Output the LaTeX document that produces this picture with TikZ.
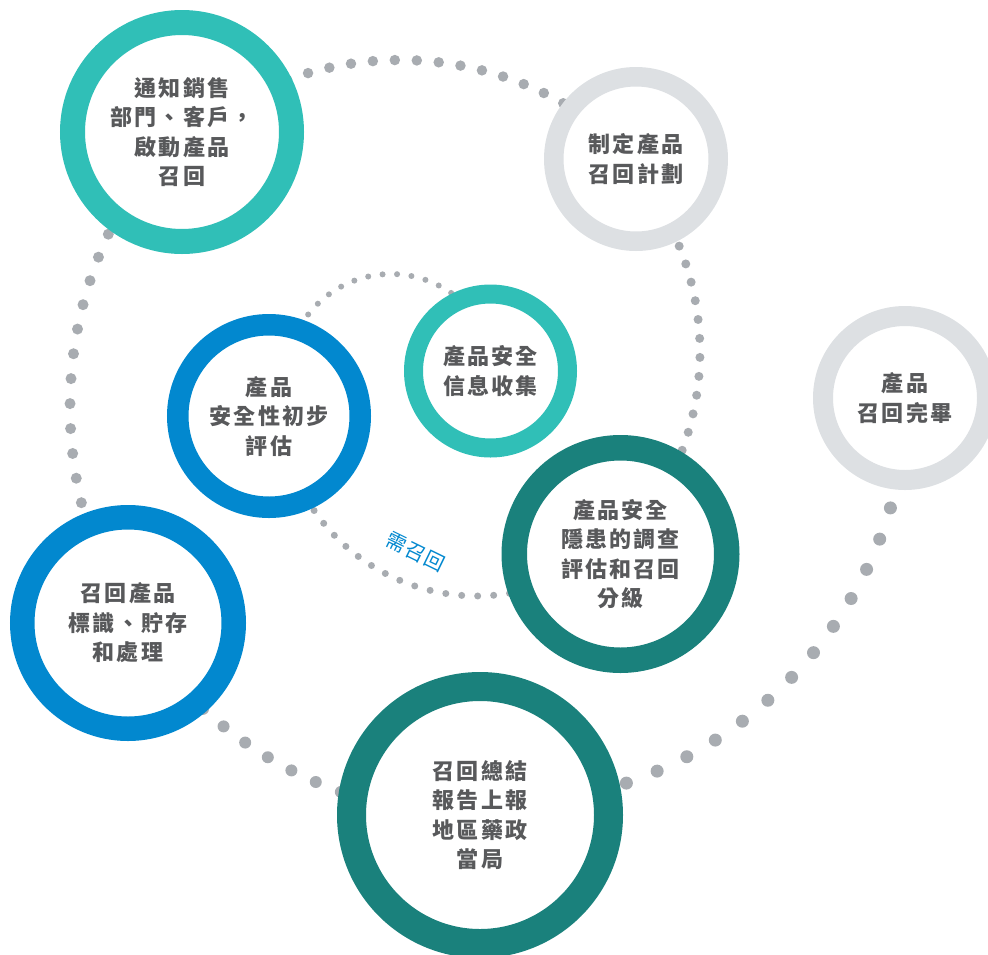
\documentclass[tikz,border=0pt]{standalone}
\usepackage{fontspec}
\newfontfamily\cjk[LetterSpace=10]{Noto Sans CJK TC}
\newfontfamily\cjklbl[LetterSpace=6]{Noto Sans CJK TC}
\definecolor{tealA}{HTML}{30BFB7}
\definecolor{tealB}{HTML}{1A817C}
\definecolor{blueA}{HTML}{0288CF}
\definecolor{ringgray}{HTML}{DDE0E3}
\definecolor{dotgray}{HTML}{A8ACB1}
\definecolor{textgray}{HTML}{58595B}
\tikzset{
  ring/.style n args={3}{circle, draw=#1, fill=white, line width=#2, minimum size=#3, inner sep=0pt,
    align=center, text=textgray, font=\cjk\bfseries\fontsize{22}{29.5}\selectfont},
  dotline/.style 2 args={draw=dotgray, line width=#1, line cap=round, dash pattern=on 0pt off #2},
  lbl/.style={text=blueA, font=\cjklbl\fontsize{20}{22}\selectfont, inner sep=0pt}
}
\begin{document}
\begin{tikzpicture}[x=1pt,y=-1pt]
\useasboundingbox (0,0) rectangle (988,954);
\clip (0,0) rectangle (988,954);
% dotted connectors (drawn first, covered by rings)
\draw[dotline={10.5pt}{22pt}] plot[domain=-110:-55, samples=80, smooth, variable=\t] ({400+330*cos(\t)}, {390+330*sin(\t)});
\draw[dotline={9pt}{19pt}] plot[domain=-30:28, samples=80, smooth, variable=\t] ({420+280*cos(\t)}, {352+280*sin(\t)});
\draw[dotline={11pt}{25pt}] plot[domain=212:160, samples=80, smooth, variable=\t] ({479+409*cos(\t)}, {407+409*sin(\t)});
\draw[dotline={12pt}{27pt}] plot[domain=140:105, samples=80, smooth, variable=\t] ({479+409*cos(\t)}, {407+409*sin(\t)});
\draw[dotline={13pt}{33pt}] plot[domain=80:8, samples=100, smooth, variable=\t] ({490+418*cos(\t)}, {388+418*sin(\t)});
\draw[dotline={6pt}{14.5pt}] plot[domain=-150:-50, samples=80, smooth, variable=\t] ({391+105*cos(\t)}, {379+105*sin(\t)});
\draw[dotline={7pt}{16pt}] plot[domain=150:75, samples=80, smooth, variable=\t] ({477+198*cos(\t)}, {398+198*sin(\t)});
% rings
\node[ring={tealA}{25pt}{219pt}] (c1) at (182,132) {通知銷售\\部門、客戶，\\啟動產品\\召回};
\node[ring={ringgray}{19.5pt}{164.5pt}] (c2) at (636,159) {制定產品\\召回計劃};
\node[ring={ringgray}{20pt}{164pt}] (c3) at (905,398) {產品\\召回完畢};
\node[ring={blueA}{21.5pt}{182.5pt}] (c4) at (269,416) {產品\\安全性初步\\評估};
\node[ring={tealA}{19pt}{154pt}] (c5) at (490.5,371) {產品安全\\信息收集};
\node[ring={tealB}{25.5pt}{212.5pt}] (c6) at (620.5,554) {產品安全\\隱患的調查\\評估和召回\\分級};
\node[ring={blueA}{24.5pt}{211.5pt}] (c7) at (128,623) {召回產品\\標識、貯存\\和處理};
\node[ring={tealB}{29pt}{257pt}] (c8) at (480,815) {召回總結\\報告上報\\地區藥政\\當局};
\node[lbl, rotate=-26] (need) at (416,552) {需召回};
\end{tikzpicture}
\end{document}
